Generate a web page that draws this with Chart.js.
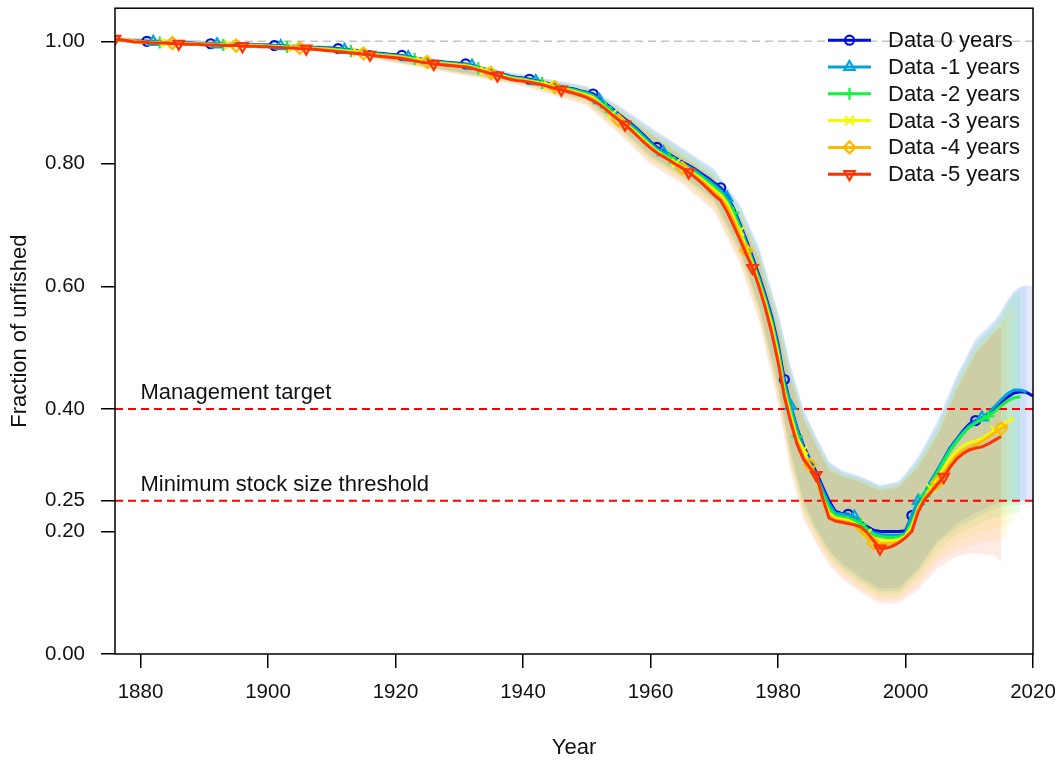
<!DOCTYPE html>
<html>
<head>
<meta charset="utf-8">
<title>Fraction of unfished - retrospective</title>
<script src="https://cdn.jsdelivr.net/npm/chart.js"></script>
<style>
  html, body { margin: 0; padding: 0; background: #fff; }
  #wrap { width: 1062px; height: 765px; }
</style>
</head>
<body>
<div id="wrap"><canvas id="fracChart" width="1062" height="765"></canvas></div>
<script>
// ---- data ----
const firstYear = 1876;
const seriesLabels = ['Data 0 years', 'Data -1 years', 'Data -2 years', 'Data -3 years', 'Data -4 years', 'Data -5 years'];
const seriesColors = ['#0010DB', '#00A4DB', '#13F240', '#F6F905', '#FFBA00', '#FF3300'];
const markerStart = [1881, 1882, 1883, 1884, 1885, 1876];
const pointStyles = ['circle', 'triangle', 'cross', 'crossRot', 'rectRot', 'triangle'];
const pointRotations = [0, 0, 0, 0, 0, 180];

const xTicks = [1880, 1900, 1920, 1940, 1960, 1980, 2000, 2020];
const yTicks = [0, 0.2, 0.25, 0.4, 0.6, 0.8, 1.0];
const refLevels = [1.0, 0.40, 0.25];
const refNotes = ['', 'Management target', 'Minimum stock size threshold'];

// estimated fraction of unfished, one value per year from 1876
const frac0 = [
  1.003, 1.002, 1.001, 1.000, 1.000, 1.000, 0.999, 0.999, 0.998, 0.998,
  0.998, 0.997, 0.997, 0.996, 0.996, 0.996, 0.995, 0.995, 0.995, 0.995,
  0.994, 0.994, 0.994, 0.994, 0.994, 0.993, 0.993, 0.992, 0.992, 0.991,
  0.991, 0.990, 0.990, 0.989, 0.989, 0.988, 0.987, 0.986, 0.985, 0.984,
  0.983, 0.981, 0.980, 0.979, 0.978, 0.977, 0.975, 0.973, 0.971, 0.970,
  0.968, 0.967, 0.966, 0.965, 0.964, 0.963, 0.961, 0.958, 0.955, 0.952,
  0.949, 0.946, 0.943, 0.941, 0.940, 0.938, 0.936, 0.934, 0.931, 0.929,
  0.926, 0.924, 0.922, 0.919, 0.917, 0.914, 0.906, 0.898, 0.890, 0.881,
  0.873, 0.865, 0.856, 0.846, 0.836, 0.827, 0.821, 0.815, 0.809, 0.803,
  0.797, 0.791, 0.784, 0.777, 0.769, 0.761, 0.748, 0.728, 0.703, 0.676,
  0.648, 0.618, 0.586, 0.551, 0.506, 0.448, 0.405, 0.368, 0.340, 0.317,
  0.297, 0.273, 0.250, 0.233, 0.229, 0.228, 0.222, 0.215, 0.208, 0.202,
  0.200, 0.200, 0.200, 0.200, 0.201, 0.226, 0.245, 0.262, 0.282, 0.300,
  0.318, 0.337, 0.350, 0.364, 0.375, 0.381, 0.385, 0.392, 0.402, 0.411,
  0.419, 0.426, 0.428, 0.427, 0.421
];
const frac1 = [
  1.003, 1.002, 1.001, 1.000, 1.000, 0.999, 0.999, 0.998, 0.998, 0.998,
  0.997, 0.997, 0.996, 0.996, 0.996, 0.995, 0.995, 0.995, 0.994, 0.994,
  0.994, 0.994, 0.993, 0.993, 0.993, 0.993, 0.992, 0.992, 0.991, 0.991,
  0.990, 0.990, 0.989, 0.989, 0.988, 0.987, 0.986, 0.985, 0.984, 0.983,
  0.982, 0.980, 0.979, 0.978, 0.977, 0.976, 0.974, 0.972, 0.970, 0.969,
  0.967, 0.966, 0.965, 0.964, 0.963, 0.962, 0.960, 0.957, 0.954, 0.951,
  0.948, 0.945, 0.942, 0.940, 0.939, 0.937, 0.935, 0.933, 0.930, 0.928,
  0.925, 0.923, 0.921, 0.918, 0.916, 0.912, 0.904, 0.896, 0.888, 0.879,
  0.871, 0.863, 0.854, 0.844, 0.834, 0.825, 0.819, 0.813, 0.807, 0.801,
  0.795, 0.789, 0.781, 0.774, 0.766, 0.757, 0.745, 0.725, 0.700, 0.672,
  0.644, 0.614, 0.582, 0.546, 0.500, 0.442, 0.405, 0.365, 0.336, 0.313,
  0.292, 0.268, 0.245, 0.230, 0.228, 0.227, 0.224, 0.214, 0.205, 0.198,
  0.195, 0.194, 0.194, 0.194, 0.196, 0.228, 0.250, 0.263, 0.283, 0.300,
  0.318, 0.336, 0.349, 0.362, 0.372, 0.380, 0.386, 0.394, 0.404, 0.415,
  0.425, 0.431, 0.431, 0.428
];
const frac2 = [
  1.003, 1.002, 1.001, 1.000, 0.999, 0.999, 0.998, 0.998, 0.998, 0.997,
  0.997, 0.996, 0.996, 0.996, 0.995, 0.995, 0.995, 0.994, 0.994, 0.994,
  0.993, 0.993, 0.993, 0.993, 0.992, 0.992, 0.991, 0.991, 0.990, 0.990,
  0.989, 0.989, 0.988, 0.988, 0.987, 0.986, 0.985, 0.984, 0.983, 0.982,
  0.981, 0.979, 0.978, 0.977, 0.976, 0.975, 0.973, 0.971, 0.969, 0.968,
  0.966, 0.965, 0.964, 0.963, 0.962, 0.961, 0.959, 0.956, 0.953, 0.950,
  0.947, 0.944, 0.941, 0.939, 0.938, 0.936, 0.934, 0.932, 0.929, 0.927,
  0.924, 0.922, 0.920, 0.917, 0.914, 0.910, 0.901, 0.892, 0.884, 0.876,
  0.868, 0.860, 0.851, 0.841, 0.831, 0.822, 0.816, 0.810, 0.804, 0.798,
  0.792, 0.786, 0.778, 0.770, 0.762, 0.753, 0.740, 0.720, 0.695, 0.668,
  0.640, 0.610, 0.577, 0.541, 0.494, 0.435, 0.395, 0.355, 0.330, 0.308,
  0.288, 0.262, 0.238, 0.226, 0.224, 0.222, 0.218, 0.212, 0.203, 0.195,
  0.192, 0.190, 0.190, 0.191, 0.195, 0.215, 0.240, 0.258, 0.278, 0.296,
  0.314, 0.332, 0.346, 0.359, 0.370, 0.377, 0.383, 0.388, 0.396, 0.405,
  0.413, 0.418, 0.420
];
const frac3 = [
  1.003, 1.002, 1.001, 1.000, 0.999, 0.998, 0.998, 0.998, 0.997, 0.997,
  0.996, 0.996, 0.996, 0.995, 0.995, 0.995, 0.994, 0.994, 0.994, 0.993,
  0.993, 0.993, 0.993, 0.992, 0.992, 0.991, 0.991, 0.990, 0.990, 0.989,
  0.989, 0.988, 0.988, 0.987, 0.986, 0.985, 0.984, 0.983, 0.982, 0.981,
  0.980, 0.978, 0.977, 0.976, 0.975, 0.974, 0.972, 0.970, 0.968, 0.967,
  0.965, 0.964, 0.963, 0.962, 0.961, 0.960, 0.958, 0.955, 0.952, 0.949,
  0.946, 0.943, 0.940, 0.938, 0.937, 0.935, 0.933, 0.931, 0.928, 0.926,
  0.923, 0.921, 0.918, 0.915, 0.912, 0.908, 0.899, 0.890, 0.881, 0.874,
  0.866, 0.857, 0.848, 0.838, 0.829, 0.820, 0.813, 0.807, 0.801, 0.795,
  0.789, 0.782, 0.775, 0.766, 0.757, 0.749, 0.735, 0.714, 0.690, 0.664,
  0.636, 0.606, 0.573, 0.536, 0.488, 0.428, 0.388, 0.352, 0.333, 0.306,
  0.285, 0.255, 0.230, 0.222, 0.220, 0.218, 0.213, 0.205, 0.197, 0.188,
  0.186, 0.185, 0.185, 0.187, 0.192, 0.208, 0.238, 0.255, 0.270, 0.286,
  0.303, 0.318, 0.331, 0.340, 0.345, 0.348, 0.352, 0.358, 0.366, 0.373,
  0.379, 0.385
];
const frac4 = [
  1.003, 1.002, 1.001, 0.999, 0.999, 0.998, 0.998, 0.997, 0.997, 0.997,
  0.996, 0.996, 0.995, 0.995, 0.995, 0.994, 0.994, 0.994, 0.993, 0.993,
  0.993, 0.992, 0.992, 0.992, 0.991, 0.991, 0.990, 0.990, 0.989, 0.989,
  0.988, 0.988, 0.987, 0.986, 0.985, 0.984, 0.983, 0.982, 0.981, 0.980,
  0.979, 0.977, 0.976, 0.975, 0.974, 0.973, 0.971, 0.969, 0.967, 0.966,
  0.964, 0.963, 0.962, 0.961, 0.960, 0.959, 0.957, 0.954, 0.951, 0.948,
  0.945, 0.942, 0.939, 0.937, 0.936, 0.934, 0.932, 0.930, 0.927, 0.925,
  0.922, 0.920, 0.917, 0.914, 0.910, 0.906, 0.898, 0.888, 0.879, 0.871,
  0.863, 0.854, 0.845, 0.835, 0.826, 0.818, 0.811, 0.805, 0.799, 0.793,
  0.787, 0.780, 0.772, 0.763, 0.753, 0.744, 0.730, 0.708, 0.684, 0.659,
  0.633, 0.603, 0.569, 0.530, 0.482, 0.424, 0.383, 0.347, 0.322, 0.309,
  0.290, 0.250, 0.226, 0.219, 0.217, 0.215, 0.210, 0.200, 0.190, 0.181,
  0.180, 0.180, 0.181, 0.183, 0.189, 0.203, 0.236, 0.255, 0.268, 0.280,
  0.296, 0.311, 0.324, 0.332, 0.337, 0.341, 0.347, 0.354, 0.361, 0.368,
  0.374
];
const frac5 = [
  1.004, 1.002, 1.001, 0.999, 0.999, 0.998, 0.997, 0.997, 0.997, 0.996,
  0.996, 0.995, 0.995, 0.995, 0.994, 0.994, 0.994, 0.993, 0.993, 0.993,
  0.992, 0.992, 0.992, 0.991, 0.991, 0.990, 0.990, 0.989, 0.989, 0.988,
  0.988, 0.987, 0.986, 0.985, 0.984, 0.983, 0.982, 0.981, 0.980, 0.979,
  0.978, 0.976, 0.975, 0.974, 0.973, 0.972, 0.970, 0.968, 0.966, 0.965,
  0.963, 0.962, 0.961, 0.960, 0.959, 0.958, 0.956, 0.953, 0.950, 0.947,
  0.944, 0.941, 0.938, 0.936, 0.935, 0.933, 0.931, 0.929, 0.926, 0.923,
  0.921, 0.918, 0.915, 0.912, 0.908, 0.903, 0.897, 0.889, 0.880, 0.872,
  0.864, 0.855, 0.845, 0.835, 0.826, 0.818, 0.812, 0.806, 0.799, 0.793,
  0.786, 0.778, 0.769, 0.759, 0.749, 0.740, 0.722, 0.700, 0.677, 0.653,
  0.630, 0.600, 0.565, 0.525, 0.477, 0.420, 0.378, 0.342, 0.318, 0.304,
  0.292, 0.255, 0.222, 0.217, 0.215, 0.213, 0.211, 0.207, 0.198, 0.185,
  0.172, 0.173, 0.176, 0.182, 0.190, 0.200, 0.232, 0.252, 0.264, 0.277,
  0.289, 0.305, 0.318, 0.327, 0.333, 0.336, 0.338, 0.343, 0.349, 0.355
];
const fracSeries = [frac0, frac1, frac2, frac3, frac4, frac5];

// uncertainty intervals (upper / lower), read at these years
const bandYears = [1876, 1910, 1940, 1950, 1955, 1960, 1965, 1970, 1974, 1977,
  1980, 1982, 1984, 1986, 1988, 1990, 1993, 1996, 1999, 2002,
  2005, 2008, 2011, 2014, 2015, 2016, 2017, 2018, 2019, 2020];
const upper0 = [1.006, 0.993, 0.946, 0.927, 0.895, 0.860, 0.826, 0.792, 0.735, 0.665,
  0.560, 0.470, 0.400, 0.355, 0.315, 0.300, 0.290, 0.276, 0.282, 0.322,
  0.380, 0.455, 0.515, 0.545, 0.560, 0.578, 0.592, 0.600, 0.602, 0.600];
const upper1 = [1.006, 0.993, 0.945, 0.926, 0.893, 0.858, 0.824, 0.789, 0.731, 0.661,
  0.555, 0.466, 0.397, 0.352, 0.312, 0.298, 0.288, 0.274, 0.280, 0.319,
  0.375, 0.450, 0.510, 0.541, 0.556, 0.575, 0.590, 0.598, 0.600, null];
const upper2 = [1.006, 0.992, 0.944, 0.924, 0.891, 0.855, 0.821, 0.786, 0.727, 0.657,
  0.550, 0.461, 0.393, 0.349, 0.309, 0.296, 0.286, 0.272, 0.278, 0.315,
  0.370, 0.444, 0.505, 0.537, 0.550, 0.570, 0.585, 0.592, null, null];
const upper3 = [1.006, 0.992, 0.943, 0.923, 0.889, 0.853, 0.818, 0.783, 0.723, 0.653,
  0.545, 0.456, 0.389, 0.346, 0.306, 0.294, 0.284, 0.270, 0.276, 0.312,
  0.365, 0.439, 0.499, 0.532, 0.545, 0.562, 0.575, null, null, null];
const upper4 = [1.006, 0.991, 0.942, 0.921, 0.887, 0.851, 0.815, 0.780, 0.719, 0.649,
  0.540, 0.452, 0.386, 0.343, 0.303, 0.292, 0.282, 0.268, 0.274, 0.308,
  0.360, 0.434, 0.494, 0.528, 0.538, 0.552, null, null, null, null];
const upper5 = [1.006, 0.991, 0.941, 0.920, 0.885, 0.849, 0.812, 0.777, 0.715, 0.645,
  0.535, 0.448, 0.383, 0.340, 0.300, 0.290, 0.280, 0.266, 0.272, 0.305,
  0.355, 0.430, 0.490, 0.525, 0.533, null, null, null, null, null];
const lower0 = [1.000, 0.986, 0.932, 0.905, 0.862, 0.814, 0.782, 0.742, 0.662, 0.570,
  0.440, 0.330, 0.250, 0.205, 0.170, 0.148, 0.125, 0.107, 0.108, 0.140,
  0.185, 0.212, 0.230, 0.245, 0.247, 0.250, 0.250, 0.250, 0.250, 0.250];
const lower1 = [1.000, 0.985, 0.931, 0.903, 0.860, 0.811, 0.779, 0.738, 0.657, 0.565,
  0.433, 0.323, 0.243, 0.200, 0.165, 0.143, 0.120, 0.102, 0.103, 0.135,
  0.180, 0.205, 0.222, 0.237, 0.240, 0.242, 0.243, 0.243, 0.243, null];
const lower2 = [1.000, 0.985, 0.930, 0.901, 0.857, 0.808, 0.776, 0.734, 0.652, 0.560,
  0.426, 0.316, 0.236, 0.195, 0.160, 0.138, 0.115, 0.097, 0.098, 0.128,
  0.170, 0.195, 0.210, 0.222, 0.225, 0.228, 0.230, 0.230, null, null];
const lower3 = [0.999, 0.984, 0.929, 0.899, 0.855, 0.805, 0.773, 0.730, 0.647, 0.555,
  0.420, 0.310, 0.230, 0.190, 0.155, 0.133, 0.110, 0.092, 0.093, 0.120,
  0.160, 0.183, 0.195, 0.205, 0.208, 0.210, 0.212, null, null, null];
const lower4 = [0.999, 0.984, 0.928, 0.897, 0.852, 0.802, 0.770, 0.726, 0.642, 0.550,
  0.414, 0.304, 0.225, 0.185, 0.150, 0.128, 0.105, 0.087, 0.088, 0.112,
  0.150, 0.170, 0.180, 0.185, 0.188, 0.190, null, null, null, null];
const lower5 = [0.999, 0.983, 0.927, 0.895, 0.850, 0.799, 0.767, 0.722, 0.637, 0.545,
  0.408, 0.298, 0.220, 0.180, 0.145, 0.123, 0.100, 0.082, 0.083, 0.105,
  0.140, 0.160, 0.165, 0.160, 0.150, null, null, null, null, null];
const upperSeries = [upper0, upper1, upper2, upper3, upper4, upper5];
const lowerSeries = [lower0, lower1, lower2, lower3, lower4, lower5];

// ---- helpers ----
const FONT = "'Liberation Sans', Arial, sans-serif";
Chart.defaults.font.family = FONT;
Chart.defaults.color = '#111';

function rgba(hex, a) {
    let r = parseInt(hex.slice(1, 3), 16);
    let g = parseInt(hex.slice(3, 5), 16);
    let b = parseInt(hex.slice(5, 7), 16);
    return 'rgba(' + r + ',' + g + ',' + b + ',' + a + ')';
}

function bandPoints(vals) {
    let pts = [];
    vals.forEach((v, k) => { if (v !== null) pts.push({x: bandYears[k], y: v}); });
    return pts;
}

// draw a small R-like marker for the legend
function drawMarker(ctx, style, rot, x, y, r) {
    ctx.beginPath();
    if (style === 'circle') {
        ctx.arc(x, y, 4.5, 0, Math.PI * 2);
    } else if (style === 'triangle') {
        let s = rot ? -1 : 1;
        ctx.moveTo(x, y - s * r);
        ctx.lineTo(x + r * 0.866, y + s * r / 2);
        ctx.lineTo(x - r * 0.866, y + s * r / 2);
        ctx.closePath();
    } else if (style === 'cross') {
        ctx.moveTo(x - r, y); ctx.lineTo(x + r, y);
        ctx.moveTo(x, y - r); ctx.lineTo(x, y + r);
    } else if (style === 'crossRot') {
        let d = r * 0.75;
        ctx.moveTo(x - d, y - d); ctx.lineTo(x + d, y + d);
        ctx.moveTo(x - d, y + d); ctx.lineTo(x + d, y - d);
    } else if (style === 'rectRot') {
        ctx.moveTo(x, y - r); ctx.lineTo(x + r, y);
        ctx.lineTo(x, y + r); ctx.lineTo(x - r, y);
        ctx.closePath();
    }
    ctx.stroke();
}

// ---- datasets ----
let datasets = [];

// shaded intervals (back); -5 years shading laid down last, as in the original
seriesColors.forEach((col, i) => {
    datasets.push({
        data: bandPoints(upperSeries[i]),
        borderColor: 'transparent',
        borderWidth: 0,
        pointRadius: 0,
        backgroundColor: rgba(col, 0.1),
        fill: '+1',
        order: 30 - i
    });
    datasets.push({
        data: bandPoints(lowerSeries[i]),
        borderColor: 'transparent',
        borderWidth: 0,
        pointRadius: 0,
        fill: false,
        order: 30 - i
    });
});

// reference lines
refLevels.forEach((lvl, i) => {
    datasets.push({
        data: [{x: 1876, y: lvl}, {x: 2020, y: lvl}],
        borderColor: i === 0 ? '#c4c4c4' : '#ff0000',
        borderWidth: i === 0 ? 1.5 : 2,
        borderDash: [8, 5],
        pointRadius: 0,
        fill: false,
        order: 10
    });
});

// retrospective estimates (front, -5 years on top)
fracSeries.forEach((vals, i) => {
    let pts = vals.map((v, k) => ({x: firstYear + k, y: v}));
    let radius = pts.map(p => (p.x >= markerStart[i] && (p.x - markerStart[i]) % 10 === 0) ? (i === 0 ? 4.5 : 6) : 0);
    datasets.push({
        label: seriesLabels[i],
        data: pts,
        borderColor: seriesColors[i],
        borderWidth: 3,
        tension: 0,
        fill: false,
        pointRadius: radius,
        pointStyle: pointStyles[i],
        rotation: pointRotations[i],
        pointBorderColor: seriesColors[i],
        pointBackgroundColor: 'rgba(0,0,0,0)',
        pointBorderWidth: 2.2,
        order: 6 - i
    });
});

// box, threshold labels and legend
const decorPlugin = {
    id: 'decor',
    afterDraw(chart) {
        let ctx = chart.ctx;
        let a = chart.chartArea;
        let xs = chart.scales.x;
        let ys = chart.scales.y;
        ctx.save();
        ctx.strokeStyle = '#000';
        ctx.lineWidth = 1.5;
        ctx.strokeRect(a.left, a.top, a.right - a.left, a.bottom - a.top);

        ctx.fillStyle = '#111';
        ctx.font = '22px ' + FONT;
        ctx.textAlign = 'left';
        ctx.textBaseline = 'alphabetic';
        refLevels.forEach((lvl, i) => {
            if (refNotes[i]) ctx.fillText(refNotes[i], xs.getPixelForValue(1880), ys.getPixelForValue(lvl) - 10);
        });

        // legend, top right inside the plot
        ctx.textBaseline = 'middle';
        seriesLabels.forEach((lab, i) => {
            let yy = a.top + 32 + i * 26.8;
            ctx.strokeStyle = seriesColors[i];
            ctx.lineWidth = 3;
            ctx.beginPath();
            ctx.moveTo(a.right - 205, yy);
            ctx.lineTo(a.right - 162, yy);
            ctx.stroke();
            ctx.lineWidth = 2.2;
            drawMarker(ctx, pointStyles[i], pointRotations[i], a.right - 183.5, yy, 6);
            ctx.fillStyle = '#111';
            ctx.fillText(lab, a.right - 145, yy + 1);
        });
        ctx.restore();
    }
};

let ctxFrac = document.getElementById('fracChart').getContext('2d');
let fracChart = new Chart(ctxFrac, {
    type: 'line',
    data: { datasets: datasets },
    options: {
        responsive: false,
        devicePixelRatio: 1,
        animation: false,
        events: [],
        layout: { padding: { left: 0, right: 29, top: 8, bottom: 0 } },
        plugins: {
            legend: { display: false },
            tooltip: { enabled: false },
            filler: { drawTime: 'beforeDatasetDraw' }
        },
        scales: {
            x: {
                type: 'linear',
                min: 1876,
                max: 2020,
                afterBuildTicks: (scale) => { scale.ticks = xTicks.map(v => ({value: v})); },
                afterFit: (scale) => {
                    scale.height = 111;
                    scale.paddingLeft = 0;
                    scale.paddingRight = 0;
                },
                grid: { drawOnChartArea: false, drawTicks: true, tickLength: 14, color: '#000', lineWidth: 1.5 },
                border: { display: false },
                ticks: {
                    autoSkip: false,
                    maxRotation: 0,
                    padding: 12,
                    color: '#111',
                    font: { size: 20.5 },
                    callback: (v) => String(v)
                },
                title: {
                    display: true,
                    text: 'Year',
                    color: '#111',
                    font: { size: 22 },
                    padding: { top: 0, bottom: 4 }
                }
            },
            y: {
                type: 'linear',
                min: 0,
                max: 1.054,
                afterBuildTicks: (scale) => { scale.ticks = yTicks.map(v => ({value: v})); },
                afterFit: (scale) => {
                    scale.width = 115;
                    scale.paddingTop = 0;
                    scale.paddingBottom = 0;
                },
                grid: { drawOnChartArea: false, drawTicks: true, tickLength: 14, color: '#000', lineWidth: 1.5 },
                border: { display: false },
                ticks: {
                    autoSkip: false,
                    padding: 16,
                    color: '#111',
                    font: { size: 20.5 },
                    callback: (v) => Number(v).toFixed(2)
                },
                title: {
                    display: true,
                    text: 'Fraction of unfished',
                    color: '#111',
                    font: { size: 22 },
                    padding: { top: 7, bottom: 0 }
                }
            }
        }
    },
    plugins: [decorPlugin]
});
</script>
</body>
</html>
